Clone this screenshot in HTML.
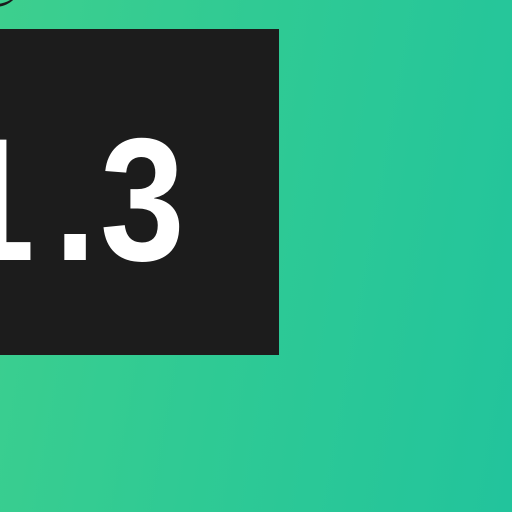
<!DOCTYPE html>
<html><head><meta charset="utf-8"><style>
html,body{margin:0;padding:0;width:512px;height:512px;overflow:hidden;position:relative}
#bg{position:absolute;left:0;top:0;width:512px;height:512px;overflow:hidden;background:linear-gradient(100deg,#3dcf8e 0%,#2fca94 45%,#22c49c 100%)}
#arc{position:absolute;left:-30px;top:-38px;width:50px;height:42px;border-radius:50%;border-bottom:3px solid #1c1c1c}
#box{position:absolute;left:0;top:29px;width:279px;height:326px;background:#1c1c1c;overflow:hidden}
.ch{position:absolute;color:#fff;font-family:"Liberation Sans",sans-serif;font-weight:bold;font-size:175px;line-height:1;transform:scaleX(0.87);transform-origin:0 0}
</style></head><body>
<div id="bg"><div id="arc"></div></div>
<div id="box">
<span class="ch" style="left:-50px;top:84px">1</span>
<span class="ch" style="left:54px;top:84px">.</span>
<span class="ch" style="left:100px;top:84px">3</span>
</div>
</body></html>
